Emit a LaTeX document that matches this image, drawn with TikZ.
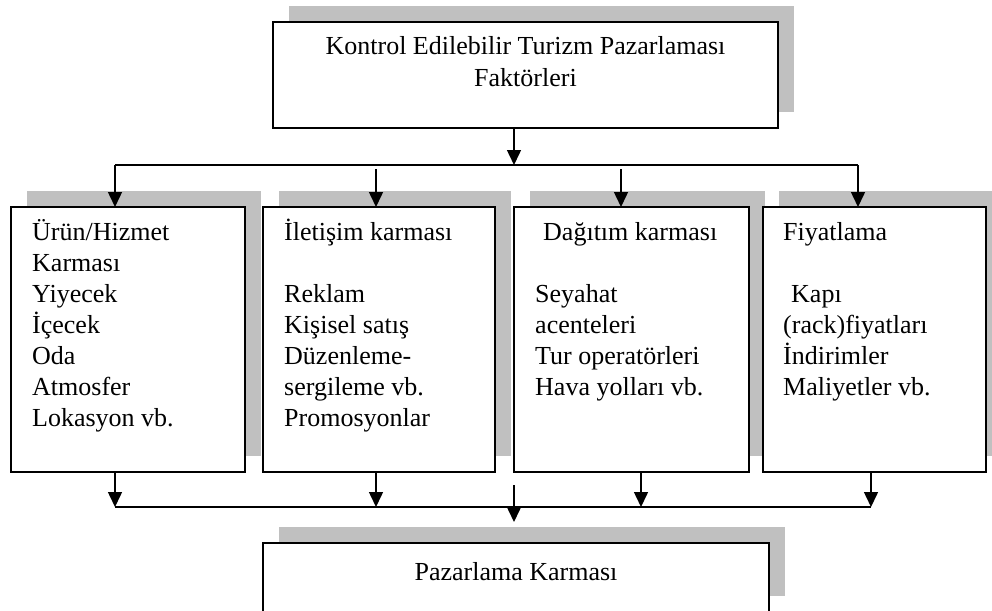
\documentclass[tikz,border=0pt]{standalone}
\usepackage{fontspec}
\setmainfont{Liberation Serif}
\usetikzlibrary{arrows.meta,shadows}
\definecolor{shgray}{HTML}{C0C0C0}
\begin{document}
\begin{tikzpicture}[x=1pt,y=-1pt,
  panel/.style={draw, line width=1.8pt, fill=white, rectangle, anchor=north west,
    inner sep=0pt, outer sep=0pt,
    drop shadow={shadow xshift=16pt, shadow yshift=16pt, fill=shgray, opacity=1, draw=none}},
  boxtext/.style={anchor=base west, inner sep=0pt, font=\fontsize{26}{31}\selectfont},
  link/.style={line width=1.5pt},
  feed/.style={line width=1.5pt, -{Triangle[width=14pt,length=15pt]}}
]
\useasboundingbox (0,0) rectangle (992,610);
\clip (0,0) rectangle (992,610);

% top factor box
\node[panel, minimum width=505pt, minimum height=106pt] (top) at (273,22) {};
\node[anchor=base, inner sep=0pt, font=\fontsize{26}{32}\selectfont]
  (toptext) at ([shift={(0,33)}]top.north)
  {\begin{tabular}[t]{@{}c@{}}Kontrol Edilebilir Turizm Pazarlaması\\Faktörleri\end{tabular}};

% the four mix boxes
\node[panel, minimum width=234pt, minimum height=265pt] (b1) at (11,207) {};
\node[panel, minimum width=232pt, minimum height=265pt] (b2) at (263,207) {};
\node[panel, minimum width=235pt, minimum height=265pt] (b3) at (514,207) {};
\node[panel, minimum width=223pt, minimum height=265pt] (b4) at (763,207) {};

\node[boxtext] (t1) at ([shift={(21,33)}]b1.north west)
  {\begin{tabular}[t]{@{}l@{}}Ürün/Hizmet\\Karması\\Yiyecek\\İçecek\\Oda\\Atmosfer\\Lokasyon vb.\end{tabular}};
\node[boxtext] (t2) at ([shift={(21,33)}]b2.north west)
  {\begin{tabular}[t]{@{}l@{}}İletişim karması\\ \\Reklam\\Kişisel satış\\Düzenleme-\\sergileme vb.\\Promosyonlar\end{tabular}};
\node[boxtext] (t3) at ([shift={(21,33)}]b3.north west)
  {\begin{tabular}[t]{@{}l@{}}\hspace*{8pt}Dağıtım karması\\ \\Seyahat\\acenteleri\\Tur operatörleri\\Hava yolları vb.\end{tabular}};
\node[boxtext] (t4) at ([shift={(20,33)}]b4.north west)
  {\begin{tabular}[t]{@{}l@{}}Fiyatlama\\ \\\hspace*{8pt}Kapı\\(rack)fiyatları\\İndirimler\\Maliyetler vb.\end{tabular}};

% bottom result box
\node[panel, minimum width=506pt, minimum height=69pt] (bot) at (263,543) {};
\node[anchor=base, inner sep=0pt, font=\fontsize{26}{31}\selectfont]
  (bottext) at ([shift={(0,37)}]bot.north) {Pazarlama Karması};

% distribution from the top box
\coordinate (split) at (514,165);
\coordinate (hl) at (115,165);
\coordinate (hr) at (858,165);
\coordinate (d2) at (376,169);
\coordinate (d3) at (621,169);
\draw[feed] (top.south -| split) -- (split);
\draw[link] (hl) -- (hr);
\draw[feed] (hl) -- (hl |- b1.north);
\draw[feed] (d2) -- (d2 |- b2.north);
\draw[feed] (d3) -- (d3 |- b3.north);
\draw[feed] (hr) -- (hr |- b4.north);

% collection into the bottom box
\coordinate (u1) at (115,507);
\coordinate (u2) at (376,507);
\coordinate (u3) at (641,507);
\coordinate (u4) at (871,507);
\draw[feed] (b1.south -| u1) -- (u1);
\draw[feed] (b2.south -| u2) -- (u2);
\draw[feed] (b3.south -| u3) -- (u3);
\draw[feed] (b4.south -| u4) -- (u4);
\draw[link] (u1) -- (u4);
\coordinate (m) at (514,485);
\coordinate (mt) at (514,522);
\draw[feed] (m) -- (mt);
\end{tikzpicture}
\end{document}
